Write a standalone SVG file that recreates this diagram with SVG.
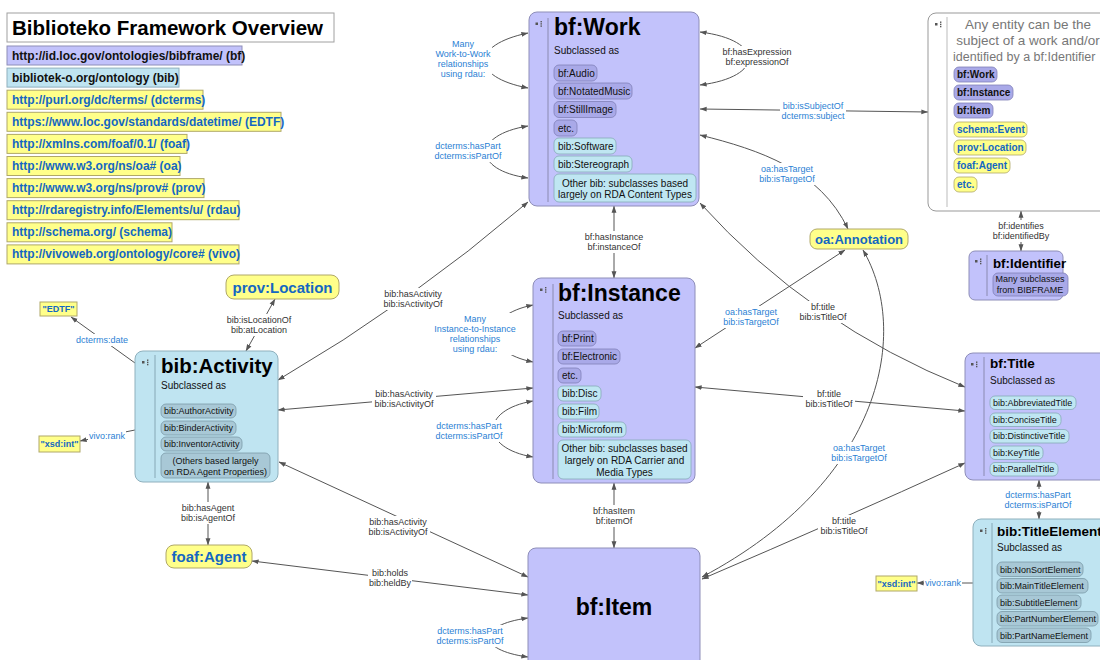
<svg xmlns="http://www.w3.org/2000/svg" xmlns:xlink="http://www.w3.org/1999/xlink" width="1100" height="660" viewBox="0 0 1100 660">
<defs>
<style>
text{font-family:"Liberation Sans",Arial,sans-serif}
.bf{fill:#c2c2fb;stroke:#8e8eb8;stroke-width:1}
.bib{fill:#bfe4f1;stroke:#8fb0bd;stroke-width:1}
.yel{fill:#ffff8a;stroke:#b0a868;stroke-width:1}
.leg{stroke:#a0a0a0;stroke-width:1}
.pbf{fill:#a9a9e8;stroke:#8080b8;stroke-width:0.8}
.pbib{fill:#bfe6f2;stroke:#86aab8;stroke-width:0.8}
.pg{fill:#a8c8d6;stroke:#7b9aa8;stroke-width:0.8}
.pyel{fill:#ffff8a;stroke:#b0a868;stroke-width:0.8}
.dv{stroke:#8a8ab0;stroke-width:1}
.dvb{stroke:#86a8b6;stroke-width:1}
.ttl{font-weight:bold;fill:#000}
.sub{font-size:10px;fill:#111}
.pt{font-size:10px;fill:#111}
.pt9{font-size:9px;fill:#111}
.ptb{font-size:10px;font-weight:bold;fill:#111}
.ptby{font-size:10px;font-weight:bold;fill:#1467c2}
.ytx{font-weight:bold;fill:#1467c2;text-anchor:middle}
.legt{font-size:12px;font-weight:bold;fill:#111}
.legy{font-size:12px;font-weight:bold;fill:#1467c2}
.conn{fill:none;stroke:#555;stroke-width:1}
.lbl{font-size:9px;fill:#333;text-anchor:middle}
.lb{fill:#2b7fd4}
.bg{fill:#fff}
.any{font-size:13.5px;fill:#777;text-anchor:middle}
</style>
<marker id="ah" viewBox="0 0 10 10" refX="9.5" refY="5" markerWidth="7" markerHeight="7" orient="auto-start-reverse" markerUnits="userSpaceOnUse">
<path d="M0,1.5 L10,5 L0,8.5 z" fill="#555"/>
</marker>
<g id="ic">
<rect x="0" y="1.5" width="2.5" height="2.5" fill="#555"/>
<rect x="5" y="0" width="1.4" height="1.4" fill="#555"/>
<rect x="5" y="2.2" width="1.4" height="1.4" fill="#555"/>
<rect x="5" y="4.4" width="1.4" height="1.4" fill="#555"/>
</g>
</defs>
<rect width="1100" height="660" fill="#fff"/>

<g id="legend">
<rect x="7" y="13" width="327" height="29" fill="#fff" class="leg"/>
<text x="12" y="35" class="ttl" font-size="20.5">Biblioteko Framework Overview</text>
<rect x="7" y="46" width="235" height="19" class="bf"/>
<text x="12" y="59.5" class="legt">http://id.loc.gov/ontologies/bibframe/ (bf)</text>
<rect x="7" y="68.1" width="172" height="19" class="bib"/>
<text x="12" y="81.6" class="legt">bibliotek-o.org/ontology (bib)</text>
<rect x="7" y="90.2" width="196" height="19" class="yel"/>
<text x="12" y="103.7" class="legy">http://purl.org/dc/terms/ (dcterms)</text>
<rect x="7" y="112.3" width="274" height="19" class="yel"/>
<text x="12" y="125.8" class="legy">https://www.loc.gov/standards/datetime/ (EDTF)</text>
<rect x="7" y="134.4" width="180" height="19" class="yel"/>
<text x="12" y="147.9" class="legy">http://xmlns.com/foaf/0.1/ (foaf)</text>
<rect x="7" y="156.5" width="173" height="19" class="yel"/>
<text x="12" y="170" class="legy">http://www.w3.org/ns/oa# (oa)</text>
<rect x="7" y="178.6" width="197" height="19" class="yel"/>
<text x="12" y="192.1" class="legy">http://www.w3.org/ns/prov# (prov)</text>
<rect x="7" y="200.7" width="232" height="19" class="yel"/>
<text x="12" y="214.2" class="legy">http://rdaregistry.info/Elements/u/ (rdau)</text>
<rect x="7" y="222.8" width="165" height="19" class="yel"/>
<text x="12" y="236.3" class="legy">http://schema.org/ (schema)</text>
<rect x="7" y="244.9" width="232" height="19" class="yel"/>
<text x="12" y="258.4" class="legy">http://vivoweb.org/ontology/core# (vivo)</text>
</g>

<g id="connectors">
<path class="conn" d="M528,33 C470,45 470,77 528,88" marker-start="url(#ah)" marker-end="url(#ah)"/>
<path class="conn" d="M528,126 C472,135 472,170 528,178" marker-start="url(#ah)" marker-end="url(#ah)"/>
<path class="conn" d="M700,32 C765,40 765,77 700,85" marker-start="url(#ah)" marker-end="url(#ah)"/>
<path class="conn" d="M700,109 L928,112" marker-start="url(#ah)" marker-end="url(#ah)"/>
<path class="conn" d="M700,135 C760,150 820,170 848,229" marker-start="url(#ah)" marker-end="url(#ah)"/>
<path class="conn" d="M614,206 L614,278" marker-start="url(#ah)" marker-end="url(#ah)"/>
<path class="conn" d="M614,483 L614,548" marker-start="url(#ah)" marker-end="url(#ah)"/>
<path class="conn" d="M1021,211 L1021,251" marker-start="url(#ah)" marker-end="url(#ah)"/>
<path class="conn" d="M528,202 Q410,303 278,380" marker-start="url(#ah)" marker-end="url(#ah)"/>
<path class="conn" d="M533,388 L278,410" marker-start="url(#ah)" marker-end="url(#ah)"/>
<path class="conn" d="M279,462 L528,577" marker-start="url(#ah)" marker-end="url(#ah)"/>
<path class="conn" d="M252,561 L528,595" marker-start="url(#ah)" marker-end="url(#ah)"/>
<path class="conn" d="M528,618 C476,625 476,650 528,657" marker-start="url(#ah)" marker-end="url(#ah)"/>
<path class="conn" d="M208,482 L208,545" marker-start="url(#ah)" marker-end="url(#ah)"/>
<path class="conn" d="M246,351 L275,299" marker-start="url(#ah)" marker-end="url(#ah)"/>
<path class="conn" d="M135,363 L71,317" marker-end="url(#ah)"/>
<path class="conn" d="M135,430 L80,441" marker-end="url(#ah)"/>
<path class="conn" d="M533,305 C482,315 482,352 533,362" marker-start="url(#ah)" marker-end="url(#ah)"/>
<path class="conn" d="M533,401 C480,410 480,448 533,457" marker-start="url(#ah)" marker-end="url(#ah)"/>
<path class="conn" d="M695,348 L845,250" marker-start="url(#ah)" marker-end="url(#ah)"/>
<path class="conn" d="M700,203 Q810,325 965,387" marker-start="url(#ah)" marker-end="url(#ah)"/>
<path class="conn" d="M695,387 L965,411" marker-start="url(#ah)" marker-end="url(#ah)"/>
<path class="conn" d="M863,250 C910,330 885,480 702,577" marker-start="url(#ah)" marker-end="url(#ah)"/>
<path class="conn" d="M965,463 Q840,520 702,579" marker-start="url(#ah)" marker-end="url(#ah)"/>
<path class="conn" d="M1039,480 L1039,519" marker-start="url(#ah)" marker-end="url(#ah)"/>
<path class="conn" d="M973,583 L917,583" marker-end="url(#ah)"/>

<rect class="bg" x="434" y="38" width="58" height="42"/>
<text class="lbl lb" x="463" y="47.2">Many</text>
<text class="lbl lb" x="463" y="57.2">Work-to-Work</text>
<text class="lbl lb" x="463" y="67.2">relationships</text>
<text class="lbl lb" x="463" y="77.2">using rdau:</text>

<rect class="bg" x="434" y="140" width="69" height="22"/>
<text class="lbl lb" x="468" y="149.2">dcterms:hasPart</text>
<text class="lbl lb" x="468" y="159.2">dcterms:isPartOf</text>

<rect class="bg" x="722" y="46" width="72" height="22"/>
<text class="lbl" x="757" y="55.2">bf:hasExpression</text>
<text class="lbl" x="757" y="65.2">bf:expressionOf</text>

<rect class="bg" x="780" y="100" width="66" height="22"/>
<text class="lbl lb" x="813" y="109.2">bib:isSubjectOf</text>
<text class="lbl lb" x="813" y="119.2">dcterms:subject</text>

<rect class="bg" x="756" y="163" width="62" height="22"/>
<text class="lbl lb" x="787" y="172.2">oa:hasTarget</text>
<text class="lbl lb" x="787" y="182.2">bib:isTargetOf</text>

<rect class="bg" x="583" y="231" width="62" height="22"/>
<text class="lbl" x="614" y="240.2">bf:hasInstance</text>
<text class="lbl" x="614" y="250.2">bf:instanceOf</text>

<rect class="bg" x="990" y="220" width="62" height="22"/>
<text class="lbl" x="1021" y="229.2">bf:identifies</text>
<text class="lbl" x="1021" y="239.2">bf:identifiedBy</text>

<rect class="bg" x="382" y="288" width="62" height="22"/>
<text class="lbl" x="413" y="297.2">bib:hasActivity</text>
<text class="lbl" x="413" y="307.2">bib:isActivityOf</text>

<rect class="bg" x="226" y="314" width="66" height="22"/>
<text class="lbl" x="259" y="323.2">bib:isLocationOf</text>
<text class="lbl" x="259" y="333.2">bib:atLocation</text>

<rect class="bg" x="76" y="334" width="52" height="12"/>
<text class="lbl lb" x="102" y="343.2">dcterms:date</text>

<rect class="bg" x="720" y="306" width="62" height="22"/>
<text class="lbl lb" x="751" y="315.2">oa:hasTarget</text>
<text class="lbl lb" x="751" y="325.2">bib:isTargetOf</text>

<rect class="bg" x="797" y="301" width="52" height="22"/>
<text class="lbl" x="823" y="310.2">bf:title</text>
<text class="lbl" x="823" y="320.2">bib:isTitleOf</text>

<rect class="bg" x="432" y="313" width="86" height="42"/>
<text class="lbl lb" x="475" y="322.2">Many</text>
<text class="lbl lb" x="475" y="332.2">Instance-to-Instance</text>
<text class="lbl lb" x="475" y="342.2">relationships</text>
<text class="lbl lb" x="475" y="352.2">using rdau:</text>

<rect class="bg" x="372" y="388" width="64" height="22"/>
<text class="lbl" x="404" y="397.2">bib:hasActivity</text>
<text class="lbl" x="404" y="407.2">bib:isActivityOf</text>

<rect class="bg" x="803" y="388" width="52" height="22"/>
<text class="lbl" x="829" y="397.2">bf:title</text>
<text class="lbl" x="829" y="407.2">bib:isTitleOf</text>

<rect class="bg" x="435" y="420" width="69" height="22"/>
<text class="lbl lb" x="469" y="429.2">dcterms:hasPart</text>
<text class="lbl lb" x="469" y="439.2">dcterms:isPartOf</text>

<rect class="bg" x="88" y="430" width="38" height="12"/>
<text class="lbl lb" x="107" y="439.2">vivo:rank</text>

<rect class="bg" x="828" y="442" width="62" height="22"/>
<text class="lbl lb" x="859" y="451.2">oa:hasTarget</text>
<text class="lbl lb" x="859" y="461.2">bib:isTargetOf</text>

<rect class="bg" x="1004" y="489" width="69" height="22"/>
<text class="lbl lb" x="1038" y="498.2">dcterms:hasPart</text>
<text class="lbl lb" x="1038" y="508.2">dcterms:isPartOf</text>

<rect class="bg" x="180" y="502" width="56" height="22"/>
<text class="lbl" x="208" y="511.2">bib:hasAgent</text>
<text class="lbl" x="208" y="521.2">bib:isAgentOf</text>

<rect class="bg" x="591" y="505" width="46" height="22"/>
<text class="lbl" x="614" y="514.2">bf:hasItem</text>
<text class="lbl" x="614" y="524.2">bf:itemOf</text>

<rect class="bg" x="366" y="516" width="64" height="22"/>
<text class="lbl" x="398" y="525.2">bib:hasActivity</text>
<text class="lbl" x="398" y="535.2">bib:isActivityOf</text>

<rect class="bg" x="818" y="515" width="52" height="22"/>
<text class="lbl" x="844" y="524.2">bf:title</text>
<text class="lbl" x="844" y="534.2">bib:isTitleOf</text>

<rect class="bg" x="368" y="567" width="44" height="22"/>
<text class="lbl" x="390" y="576.2">bib:holds</text>
<text class="lbl" x="390" y="586.2">bib:heldBy</text>

<rect class="bg" x="436" y="625" width="69" height="22"/>
<text class="lbl lb" x="470" y="634.2">dcterms:hasPart</text>
<text class="lbl lb" x="470" y="644.2">dcterms:isPartOf</text>

<rect class="bg" x="924" y="577" width="38" height="12"/>
<text class="lbl lb" x="943" y="586.2">vivo:rank</text>
</g>

<g id="bf-work">
<rect x="529" y="12" width="170" height="194" rx="8" class="bf"/>
<use xlink:href="#ic" x="535.5" y="21"/>
<line x1="548" y1="18" x2="548" y2="202" class="dv"/>
<text x="554" y="35" class="ttl" font-size="23">bf:Work</text>
<text x="554" y="54" class="sub">Subclassed as</text>
<rect x="554" y="65" width="43" height="16" rx="5" class="pbf"/>
<text x="558" y="76.5" class="pt">bf:Audio</text>
<rect x="554" y="83" width="78" height="16" rx="5" class="pbf"/>
<text x="558" y="94.5" class="pt">bf:NotatedMusic</text>
<rect x="554" y="101.5" width="62" height="16" rx="5" class="pbf"/>
<text x="558" y="113" class="pt">bf:StillImage</text>
<rect x="554" y="120" width="23" height="16" rx="5" class="pbf"/>
<text x="558" y="131.5" class="pt">etc.</text>
<rect x="554" y="138" width="62" height="16" rx="5" class="pbib"/>
<text x="558" y="149.5" class="pt">bib:Software</text>
<rect x="554" y="156" width="78" height="16" rx="5" class="pbib"/>
<text x="558" y="167.5" class="pt">bib:Stereograph</text>
<rect x="554" y="174" width="142" height="28" rx="5" class="pbib"/>
<text x="625" y="186.5" class="pt" text-anchor="middle">Other bib: subclasses based</text>
<text x="625" y="198" class="pt" text-anchor="middle">largely on RDA Content Types</text>
</g>

<g id="bf-instance">
<rect x="533" y="278" width="162" height="205" rx="8" class="bf"/>
<use xlink:href="#ic" x="540" y="287"/>
<line x1="553" y1="284" x2="553" y2="479" class="dv"/>
<text x="558" y="301" class="ttl" font-size="23">bf:Instance</text>
<text x="558" y="319" class="sub">Subclassed as</text>
<rect x="558" y="331" width="38" height="15" rx="5" class="pbf"/>
<text x="562" y="342" class="pt">bf:Print</text>
<rect x="558" y="349" width="62" height="15" rx="5" class="pbf"/>
<text x="562" y="360" class="pt">bf:Electronic</text>
<rect x="558" y="368" width="23" height="15" rx="5" class="pbf"/>
<text x="562" y="379" class="pt">etc.</text>
<rect x="558" y="386" width="43" height="15" rx="5" class="pbib"/>
<text x="562" y="397" class="pt">bib:Disc</text>
<rect x="558" y="404" width="41" height="15" rx="5" class="pbib"/>
<text x="562" y="415" class="pt">bib:Film</text>
<rect x="558" y="422" width="68" height="15" rx="5" class="pbib"/>
<text x="562" y="433" class="pt">bib:Microform</text>
<rect x="558" y="440" width="133" height="39" rx="5" class="pbib"/>
<text x="624.5" y="451.5" class="pt" text-anchor="middle">Other bib: subclasses based</text>
<text x="624.5" y="463.5" class="pt" text-anchor="middle">largely on RDA Carrier and</text>
<text x="624.5" y="475.5" class="pt" text-anchor="middle">Media Types</text>
</g>

<g id="bf-item">
<rect x="528" y="548" width="172" height="130" rx="8" class="bf"/>
<text x="614" y="615" class="ttl" font-size="23" text-anchor="middle">bf:Item</text>
</g>

<g id="bib-activity">
<rect x="135" y="351" width="143" height="131" rx="8" class="bib"/>
<use xlink:href="#ic" x="142" y="359.5"/>
<line x1="155" y1="355" x2="155" y2="478" class="dvb"/>
<text x="161" y="373" class="ttl" font-size="20.5">bib:Activity</text>
<text x="161" y="389" class="sub">Subclassed as</text>
<rect x="161" y="404" width="75" height="14" rx="5" class="pg"/>
<text x="164" y="414.2" class="pt9">bib:AuthorActivity</text>
<rect x="161" y="421" width="75" height="14" rx="5" class="pg"/>
<text x="164" y="431.2" class="pt9">bib:BinderActivity</text>
<rect x="161" y="437" width="81" height="14" rx="5" class="pg"/>
<text x="164" y="447.2" class="pt9">bib:InventorActivity</text>
<rect x="161" y="453" width="109" height="25" rx="5" class="pg"/>
<text x="215.5" y="464" class="pt9" text-anchor="middle">(Others based largely</text>
<text x="215.5" y="474.5" class="pt9" text-anchor="middle">on RDA Agent Properties)</text>
</g>

<g id="bf-title">
<rect x="965" y="353" width="145" height="127" rx="8" class="bf"/>
<use xlink:href="#ic" x="971" y="361.5"/>
<line x1="984" y1="357" x2="984" y2="476" class="dv"/>
<text x="990" y="368" class="ttl" font-size="13.5">bf:Title</text>
<text x="990" y="383.5" class="sub">Subclassed as</text>
<rect x="990" y="396" width="86" height="13.5" rx="5" class="pbib"/>
<text x="993" y="405.8" class="pt9">bib:AbbreviatedTitle</text>
<rect x="990" y="413" width="71" height="13.5" rx="5" class="pbib"/>
<text x="993" y="422.8" class="pt9">bib:ConciseTitle</text>
<rect x="990" y="429.5" width="79" height="13.5" rx="5" class="pbib"/>
<text x="993" y="439.3" class="pt9">bib:DistinctiveTitle</text>
<rect x="990" y="446" width="53" height="13.5" rx="5" class="pbib"/>
<text x="993" y="455.8" class="pt9">bib:KeyTitle</text>
<rect x="990" y="462.5" width="68" height="13.5" rx="5" class="pbib"/>
<text x="993" y="472.3" class="pt9">bib:ParallelTitle</text>
</g>

<g id="bib-titleelement">
<rect x="973" y="519" width="140" height="127" rx="8" class="bib"/>
<use xlink:href="#ic" x="980" y="528"/>
<line x1="992" y1="523" x2="992" y2="643" class="dvb"/>
<text x="997" y="535.5" class="ttl" font-size="13.5">bib:TitleElement</text>
<text x="997" y="550.5" class="sub">Subclassed as</text>
<rect x="997" y="562" width="86" height="14.5" rx="5" class="pg"/>
<text x="1000" y="572.5" class="pt9">bib:NonSortElement</text>
<rect x="997" y="578.5" width="91" height="14.5" rx="5" class="pg"/>
<text x="1000" y="589" class="pt9">bib:MainTitleElement</text>
<rect x="997" y="595" width="84" height="14.5" rx="5" class="pg"/>
<text x="1000" y="605.5" class="pt9">bib:SubtitleElement</text>
<rect x="997" y="611.5" width="101" height="14.5" rx="5" class="pg"/>
<text x="1000" y="622" class="pt9">bib:PartNumberElement</text>
<rect x="997" y="628" width="94" height="14.5" rx="5" class="pg"/>
<text x="1000" y="638.5" class="pt9">bib:PartNameElement</text>
</g>

<g id="any-entity">
<rect x="928" y="13" width="182" height="198" rx="8" fill="#fff" stroke="#999" stroke-width="1"/>
<use xlink:href="#ic" x="935" y="21.5"/>
<line x1="947" y1="17" x2="947" y2="207" stroke="#bbb" stroke-width="1"/>
<text x="1028" y="29" class="any">Any entity can be the</text>
<text x="1028" y="45" class="any">subject of a work and/or</text>
<text x="953" y="61" font-size="12.5" fill="#777">identified by a bf:Identifier</text>
<rect x="954" y="67" width="43" height="15" rx="5" class="pbf"/>
<text x="957" y="78" class="ptb">bf:Work</text>
<rect x="954" y="85" width="59" height="15" rx="5" class="pbf"/>
<text x="957" y="96" class="ptb">bf:Instance</text>
<rect x="954" y="103" width="39" height="15" rx="5" class="pbf"/>
<text x="957" y="114" class="ptb">bf:Item</text>
<rect x="954" y="122" width="73" height="15" rx="5" class="pyel"/>
<text x="957" y="133" class="ptby">schema:Event</text>
<rect x="954" y="140" width="72" height="15" rx="5" class="pyel"/>
<text x="957" y="151" class="ptby">prov:Location</text>
<rect x="954" y="158" width="56" height="15" rx="5" class="pyel"/>
<text x="957" y="169" class="ptby">foaf:Agent</text>
<rect x="954" y="177" width="23" height="15" rx="5" class="pyel"/>
<text x="957" y="188" class="ptby">etc.</text>
</g>

<g id="bf-identifier">
<rect x="969" y="251" width="94" height="49" rx="6" class="bf"/>
<use xlink:href="#ic" x="975" y="258.5"/>
<line x1="987" y1="255" x2="987" y2="296" class="dv"/>
<text x="993" y="267.5" class="ttl" font-size="13.3">bf:Identifier</text>
<rect x="993" y="273" width="75" height="23" rx="5" class="pbf"/>
<text x="1030" y="282" class="pt9" text-anchor="middle">Many subclasses</text>
<text x="1030" y="292.5" class="pt9" text-anchor="middle">from BIBFRAME</text>
</g>

<g id="oa-annotation">
<rect x="810" y="229" width="98" height="20" rx="7" class="yel"/>
<text x="859" y="243.7" class="ytx" font-size="13">oa:Annotation</text>
</g>

<g id="prov-location">
<rect x="226" y="275" width="113" height="24" rx="8" class="yel"/>
<text x="282.5" y="292.5" class="ytx" font-size="15">prov:Location</text>
</g>

<g id="foaf-agent">
<rect x="166" y="545" width="86" height="23" rx="8" class="yel"/>
<text x="209" y="562" class="ytx" font-size="15">foaf:Agent</text>
</g>

<g id="edtf">
<rect x="40" y="302" width="37" height="14" class="yel"/>
<text x="58.5" y="312.3" class="ytx" font-size="9" font-weight="normal">"EDTF"</text>
</g>

<g id="xsd-int-1">
<rect x="39" y="436" width="41" height="16" class="yel"/>
<text x="59.5" y="447.3" class="ytx" font-size="9" font-weight="normal">"xsd:int"</text>
</g>

<g id="xsd-int-2">
<rect x="876" y="576" width="41" height="15" class="yel"/>
<text x="896.5" y="586.8" class="ytx" font-size="9" font-weight="normal">"xsd:int"</text>
</g>
</svg>
